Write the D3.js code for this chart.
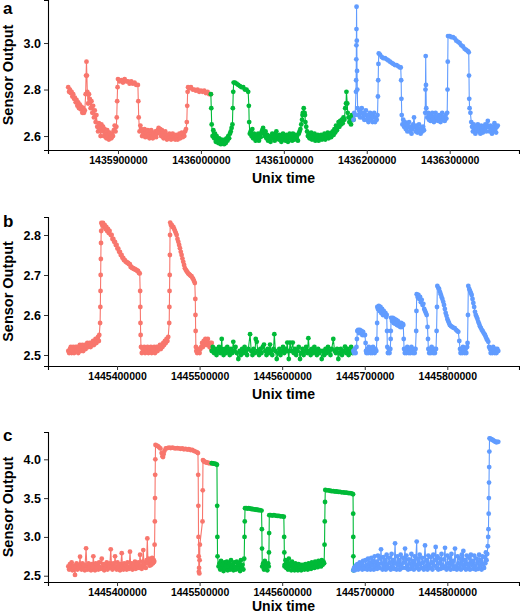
<!DOCTYPE html>
<html><head><meta charset="utf-8">
<script src="https://cdn.jsdelivr.net/npm/d3@7"></script>
<style>html,body{margin:0;padding:0;background:#fff;}svg{display:block;font-family:"Liberation Sans",Arial,sans-serif;}</style>
</head><body><svg id="chart" width="520" height="615"></svg>
<script>
// ---------- Panel a ----------
const aXTicks = [1435900000, 1436000000, 1436100000, 1436200000, 1436300000];
const aYTicks = [2.6, 2.8, 3.0];
const aRed = [[1435840000,2.81],[1435841000,2.79],[1435842000,2.80],[1435843000,2.785],[1435844000,2.79],[1435845000,2.77],[1435846000,2.78],[1435847000,2.76],[1435848000,2.765],[1435849000,2.745],[1435850000,2.755],[1435851000,2.73],[1435852000,2.745],[1435853000,2.72],[1435854000,2.735],[1435855000,2.715],[1435856000,2.725],[1435857000,2.70],[1435858000,2.72],[1435859000,2.70],[1435860000,2.71],[1435861000,2.78],[1435861500,2.86],[1435862000,2.92],[1435862500,2.86],[1435863000,2.79],[1435864000,2.74],[1435865000,2.78],[1435866000,2.76],[1435867000,2.72],[1435868000,2.75],[1435869000,2.70],[1435870000,2.73],[1435871000,2.68],[1435872000,2.71],[1435873000,2.66],[1435874000,2.69],[1435875000,2.64],[1435876000,2.62],[1435877000,2.655],[1435878000,2.635],[1435879000,2.60],[1435880000,2.65],[1435881000,2.62],[1435882000,2.64],[1435883000,2.60],[1435884000,2.63],[1435885000,2.61],[1435886000,2.59],[1435887000,2.625],[1435888000,2.60],[1435889000,2.585],[1435890000,2.615],[1435891000,2.595],[1435892000,2.59],[1435893000,2.61],[1435894000,2.60],[1435895000,2.625],[1435896000,2.645],[1435897000,2.62],[1435898000,2.64],[1435898500,2.68],[1435899000,2.75],[1435899500,2.81],[1435900000,2.845],[1435902000,2.835],[1435904000,2.84],[1435906000,2.83],[1435908000,2.845],[1435910000,2.835],[1435912000,2.835],[1435914000,2.825],[1435916000,2.835],[1435918000,2.825],[1435920000,2.83],[1435922000,2.82],[1435924000,2.82],[1435924500,2.75],[1435925000,2.68],[1435926000,2.62],[1435927000,2.645],[1435928000,2.63],[1435929000,2.60],[1435930000,2.62],[1435931000,2.61],[1435932000,2.63],[1435933000,2.595],[1435934000,2.615],[1435935000,2.60],[1435936000,2.625],[1435937000,2.605],[1435938000,2.59],[1435939000,2.615],[1435940000,2.625],[1435941000,2.60],[1435942000,2.59],[1435943000,2.61],[1435944000,2.60],[1435945000,2.62],[1435946000,2.595],[1435947000,2.61],[1435948000,2.625],[1435949000,2.635],[1435950000,2.615],[1435951000,2.63],[1435952000,2.60],[1435953000,2.625],[1435954000,2.61],[1435955000,2.59],[1435956000,2.605],[1435957000,2.62],[1435958000,2.595],[1435959000,2.585],[1435960000,2.605],[1435961000,2.59],[1435962000,2.61],[1435963000,2.595],[1435964000,2.585],[1435965000,2.60],[1435966000,2.61],[1435967000,2.59],[1435968000,2.60],[1435969000,2.585],[1435970000,2.605],[1435971000,2.595],[1435972000,2.585],[1435973000,2.60],[1435974000,2.61],[1435975000,2.59],[1435976000,2.605],[1435977000,2.615],[1435978000,2.595],[1435979000,2.61],[1435980000,2.60],[1435981000,2.62],[1435982000,2.63],[1435983000,2.66],[1435983500,2.73],[1435984000,2.79],[1435984500,2.81],[1435986000,2.805],[1435988000,2.81],[1435990000,2.80],[1435992000,2.80],[1435994000,2.795],[1435996000,2.80],[1435998000,2.79],[1436000000,2.795],[1436002000,2.79],[1436004000,2.795],[1436006000,2.785],[1436008000,2.79],[1436010000,2.78],[1436012000,2.78]];
const aGreen = [[1436012000,2.78],[1436012500,2.72],[1436013000,2.65],[1436014000,2.60],[1436015000,2.625],[1436016000,2.59],[1436017000,2.61],[1436018000,2.575],[1436019000,2.60],[1436020000,2.585],[1436021000,2.57],[1436022000,2.59],[1436023000,2.575],[1436024000,2.565],[1436025000,2.585],[1436026000,2.57],[1436027000,2.58],[1436028000,2.565],[1436029000,2.585],[1436030000,2.57],[1436031000,2.59],[1436032000,2.58],[1436033000,2.60],[1436034000,2.59],[1436035000,2.61],[1436036000,2.62],[1436037000,2.635],[1436038000,2.65],[1436038500,2.72],[1436039000,2.79],[1436039500,2.83],[1436041000,2.83],[1436043000,2.825],[1436045000,2.82],[1436047000,2.815],[1436049000,2.81],[1436051000,2.81],[1436053000,2.80],[1436055000,2.80],[1436057000,2.79],[1436057800,2.73],[1436058200,2.66],[1436059000,2.61],[1436060000,2.62],[1436061000,2.60],[1436062000,2.63],[1436063000,2.59],[1436064000,2.61],[1436065000,2.60],[1436066000,2.58],[1436067000,2.60],[1436068000,2.59],[1436069000,2.61],[1436070000,2.58],[1436071000,2.60],[1436072000,2.595],[1436073000,2.615],[1436074000,2.625],[1436075000,2.635],[1436076000,2.61],[1436077000,2.60],[1436078000,2.62],[1436079000,2.59],[1436080000,2.605],[1436081000,2.58],[1436082000,2.60],[1436083000,2.59],[1436084000,2.575],[1436085000,2.595],[1436086000,2.61],[1436087000,2.59],[1436088000,2.60],[1436089000,2.58],[1436090000,2.61],[1436091000,2.62],[1436092000,2.59],[1436093000,2.60],[1436094000,2.585],[1436095000,2.605],[1436096000,2.59],[1436097000,2.575],[1436098000,2.595],[1436099000,2.61],[1436100000,2.585],[1436101000,2.60],[1436102000,2.58],[1436103000,2.605],[1436104000,2.59],[1436105000,2.575],[1436106000,2.595],[1436107000,2.61],[1436108000,2.59],[1436109000,2.60],[1436110000,2.58],[1436111000,2.61],[1436112000,2.595],[1436113000,2.585],[1436114000,2.605],[1436115000,2.59],[1436116000,2.60],[1436117000,2.58],[1436118000,2.61],[1436119000,2.62],[1436120000,2.63],[1436121000,2.65],[1436122000,2.67],[1436122500,2.69],[1436123000,2.70],[1436124000,2.72],[1436125000,2.70],[1436125500,2.69],[1436126000,2.66],[1436127000,2.64],[1436128000,2.62],[1436129000,2.60],[1436130000,2.61],[1436131000,2.59],[1436132000,2.60],[1436133000,2.615],[1436134000,2.585],[1436135000,2.60],[1436136000,2.59],[1436137000,2.61],[1436138000,2.58],[1436139000,2.60],[1436140000,2.59],[1436141000,2.605],[1436142000,2.58],[1436143000,2.60],[1436144000,2.59],[1436145000,2.605],[1436146000,2.585],[1436147000,2.60],[1436148000,2.595],[1436149000,2.61],[1436150000,2.585],[1436151000,2.60],[1436152000,2.595],[1436153000,2.615],[1436154000,2.59],[1436155000,2.60],[1436156000,2.61],[1436157000,2.595],[1436158000,2.615],[1436159000,2.62],[1436160000,2.605],[1436161000,2.63],[1436162000,2.615],[1436163000,2.645],[1436164000,2.625],[1436165000,2.64],[1436166000,2.66],[1436167000,2.64],[1436168000,2.665],[1436169000,2.65],[1436170000,2.67],[1436171000,2.655],[1436172000,2.68],[1436173000,2.67],[1436174000,2.72],[1436175000,2.74],[1436175500,2.79],[1436176500,2.74],[1436177000,2.70],[1436178000,2.68],[1436179000,2.66],[1436180000,2.68],[1436181000,2.65],[1436182000,2.69],[1436183000,2.67],[1436184000,2.67]];
const aBlue = [[1436184000,2.67],[1436185000,2.70],[1436186000,2.69],[1436187000,2.79],[1436187200,2.84],[1436187400,2.93],[1436187500,2.99],[1436187600,3.06],[1436187700,3.156],[1436188000,3.01],[1436188300,2.88],[1436188600,2.80],[1436189000,2.72],[1436190000,2.69],[1436191000,2.71],[1436192000,2.68],[1436193000,2.70],[1436194000,2.72],[1436195000,2.68],[1436196000,2.70],[1436197000,2.67],[1436198000,2.69],[1436199000,2.71],[1436200000,2.67],[1436201000,2.69],[1436202000,2.66],[1436203000,2.68],[1436204000,2.70],[1436205000,2.67],[1436206000,2.69],[1436207000,2.66],[1436208000,2.68],[1436209000,2.70],[1436210000,2.66],[1436211000,2.68],[1436212000,2.67],[1436213000,2.69],[1436213500,2.77],[1436213800,2.84],[1436214100,2.91],[1436214500,2.955],[1436216000,2.95],[1436218000,2.94],[1436220000,2.935],[1436222000,2.935],[1436224000,2.93],[1436226000,2.925],[1436228000,2.92],[1436230000,2.915],[1436232000,2.91],[1436234000,2.905],[1436236000,2.905],[1436238000,2.90],[1436240000,2.895],[1436241000,2.895],[1436241500,2.84],[1436241800,2.76],[1436242200,2.69],[1436243000,2.65],[1436244000,2.67],[1436245000,2.64],[1436246000,2.66],[1436247000,2.63],[1436248000,2.65],[1436249000,2.62],[1436250000,2.64],[1436251000,2.66],[1436252000,2.62],[1436253000,2.64],[1436254000,2.61],[1436255000,2.63],[1436256000,2.65],[1436257000,2.68],[1436258000,2.64],[1436259000,2.62],[1436260000,2.645],[1436261000,2.615],[1436262000,2.63],[1436263000,2.65],[1436264000,2.62],[1436265000,2.61],[1436266000,2.635],[1436267000,2.62],[1436268000,2.64],[1436269000,2.625],[1436270500,2.70],[1436270800,2.80],[1436271100,2.944],[1436271400,2.82],[1436271800,2.72],[1436273000,2.68],[1436274000,2.70],[1436275000,2.67],[1436276000,2.69],[1436277000,2.665],[1436278000,2.685],[1436279000,2.70],[1436280000,2.67],[1436281000,2.66],[1436282000,2.685],[1436283000,2.70],[1436284000,2.67],[1436285000,2.68],[1436286000,2.665],[1436287000,2.69],[1436288000,2.675],[1436289000,2.66],[1436290000,2.685],[1436291000,2.70],[1436292000,2.67],[1436293000,2.68],[1436294000,2.665],[1436295000,2.69],[1436296000,2.675],[1436297000,2.70],[1436297400,2.80],[1436297700,2.92],[1436298000,3.03],[1436300000,3.03],[1436302000,3.025],[1436304000,3.025],[1436306000,3.02],[1436308000,3.01],[1436310000,3.005],[1436312000,3.00],[1436314000,2.99],[1436316000,2.985],[1436318000,2.975],[1436320000,2.97],[1436322000,2.965],[1436323000,2.96],[1436323300,2.86],[1436323600,2.76],[1436324000,2.72],[1436325000,2.70],[1436326000,2.66],[1436327000,2.64],[1436328000,2.62],[1436329000,2.65],[1436330000,2.63],[1436331000,2.61],[1436332000,2.64],[1436333000,2.625],[1436334000,2.65],[1436335000,2.62],[1436336000,2.64],[1436337000,2.61],[1436338000,2.645],[1436339000,2.63],[1436340000,2.615],[1436341000,2.64],[1436342000,2.625],[1436343000,2.65],[1436344000,2.62],[1436345000,2.64],[1436346000,2.665],[1436347000,2.64],[1436348000,2.62],[1436349000,2.645],[1436350000,2.63],[1436351000,2.61],[1436352000,2.64],[1436353000,2.625],[1436354000,2.655],[1436355000,2.63],[1436356000,2.615],[1436357000,2.64],[1436358000,2.645]];

// ---------- Panel b ----------
const bXTicks = [1445400000, 1445500000, 1445600000, 1445700000, 1445800000];
const bYTicks = [2.5, 2.6, 2.7, 2.8];
const bRed = [[1445341000,2.51],[1445342000,2.505],[1445343000,2.515],[1445344000,2.52],[1445345000,2.505],[1445346000,2.51],[1445347000,2.52],[1445348000,2.505],[1445349000,2.515],[1445350000,2.52],[1445351000,2.51],[1445352000,2.52],[1445353000,2.505],[1445354000,2.515],[1445355000,2.525],[1445356000,2.51],[1445357000,2.52],[1445358000,2.525],[1445359000,2.51],[1445360000,2.52],[1445361000,2.525],[1445362000,2.515],[1445363000,2.52],[1445364000,2.53],[1445365000,2.52],[1445366000,2.525],[1445367000,2.53],[1445368000,2.52],[1445369000,2.53],[1445370000,2.525],[1445371000,2.535],[1445372000,2.525],[1445373000,2.53],[1445374000,2.54],[1445375000,2.53],[1445376000,2.54],[1445377000,2.545],[1445378000,2.535],[1445378500,2.55],[1445379500,2.58],[1445379800,2.62],[1445380000,2.66],[1445380200,2.70],[1445380400,2.74],[1445380600,2.78],[1445380800,2.81],[1445381000,2.83],[1445382000,2.825],[1445383000,2.83],[1445384000,2.82],[1445385000,2.825],[1445386000,2.815],[1445387000,2.82],[1445388000,2.81],[1445389000,2.815],[1445390000,2.805],[1445391000,2.81],[1445392500,2.80],[1445393500,2.80],[1445394500,2.79],[1445395500,2.79],[1445396500,2.783],[1445397500,2.783],[1445398500,2.775],[1445399500,2.775],[1445400500,2.766],[1445401500,2.766],[1445402500,2.758],[1445403500,2.758],[1445404500,2.75],[1445405500,2.75],[1445406500,2.743],[1445407500,2.743],[1445408500,2.737],[1445409500,2.737],[1445410500,2.733],[1445411500,2.733],[1445412500,2.73],[1445413500,2.73],[1445414500,2.727],[1445415500,2.727],[1445416500,2.72],[1445417500,2.72],[1445418500,2.717],[1445419500,2.717],[1445420500,2.715],[1445421500,2.715],[1445422500,2.713],[1445423500,2.713],[1445424500,2.71],[1445425500,2.71],[1445426500,2.705],[1445427500,2.704],[1445428000,2.66],[1445428200,2.62],[1445428400,2.58],[1445428600,2.55],[1445429000,2.52],[1445430000,2.505],[1445431000,2.515],[1445432000,2.51],[1445433000,2.52],[1445434000,2.505],[1445435000,2.515],[1445436000,2.51],[1445437000,2.52],[1445438000,2.505],[1445439000,2.515],[1445440000,2.51],[1445441000,2.52],[1445442000,2.505],[1445443000,2.515],[1445444000,2.51],[1445445000,2.52],[1445446000,2.505],[1445447000,2.515],[1445448000,2.52],[1445449000,2.51],[1445450000,2.52],[1445451000,2.515],[1445452000,2.525],[1445453000,2.515],[1445454000,2.525],[1445455000,2.52],[1445456000,2.53],[1445457000,2.525],[1445458000,2.535],[1445459000,2.53],[1445460000,2.54],[1445461000,2.535],[1445462000,2.545],[1445463200,2.58],[1445463400,2.62],[1445463600,2.66],[1445463800,2.70],[1445464000,2.75],[1445464200,2.80],[1445464400,2.831],[1445465200,2.825],[1445466200,2.825],[1445467200,2.82],[1445468200,2.82],[1445469200,2.815],[1445470200,2.81],[1445471200,2.805],[1445472200,2.80],[1445473200,2.79],[1445474200,2.783],[1445475200,2.775],[1445476200,2.767],[1445477200,2.758],[1445478200,2.75],[1445479200,2.741],[1445480200,2.733],[1445481200,2.725],[1445482200,2.717],[1445483200,2.713],[1445484200,2.71],[1445485200,2.707],[1445486200,2.704],[1445487200,2.702],[1445488200,2.70],[1445489200,2.698],[1445490200,2.697],[1445491200,2.693],[1445492200,2.69],[1445493200,2.685],[1445494200,2.68],[1445494800,2.64],[1445495000,2.60],[1445495200,2.56],[1445495500,2.52],[1445496000,2.51],[1445497000,2.505],[1445498000,2.515],[1445499000,2.51],[1445500000,2.505],[1445501000,2.515],[1445502000,2.52],[1445503000,2.53],[1445504000,2.52],[1445505000,2.535],[1445506000,2.525],[1445507000,2.54],[1445508000,2.53],[1445509000,2.525],[1445510000,2.54],[1445511000,2.53],[1445512000,2.52],[1445513000,2.53],[1445514000,2.515],[1445514700,2.53]];
const bGreen = [[1445514700,2.51],[1445516000,2.52],[1445517500,2.505],[1445519000,2.515],[1445520500,2.50],[1445522000,2.51],[1445523500,2.52],[1445525000,2.505],[1445526000,2.515],[1445526800,2.54],[1445527600,2.51],[1445529000,2.50],[1445530500,2.515],[1445532000,2.505],[1445533500,2.52],[1445535000,2.51],[1445536500,2.50],[1445538000,2.515],[1445539500,2.505],[1445540800,2.533],[1445542000,2.51],[1445543500,2.52],[1445545000,2.505],[1445546900,2.49],[1445548500,2.51],[1445550000,2.50],[1445551500,2.515],[1445553000,2.505],[1445554500,2.52],[1445556000,2.51],[1445557500,2.50],[1445559000,2.515],[1445561100,2.552],[1445562500,2.51],[1445564000,2.50],[1445565500,2.515],[1445567000,2.505],[1445568000,2.54],[1445569200,2.533],[1445570500,2.51],[1445572000,2.50],[1445573500,2.515],[1445575000,2.505],[1445576500,2.52],[1445578000,2.526],[1445579500,2.51],[1445581000,2.50],[1445582500,2.515],[1445584000,2.505],[1445585300,2.526],[1445586500,2.51],[1445588000,2.50],[1445589500,2.515],[1445590500,2.552],[1445591800,2.51],[1445593400,2.49],[1445595000,2.505],[1445596500,2.515],[1445598000,2.50],[1445599500,2.51],[1445601000,2.52],[1445602500,2.505],[1445604000,2.515],[1445605000,2.51],[1445606200,2.531],[1445607000,2.51],[1445608000,2.49],[1445609500,2.531],[1445611000,2.51],[1445612800,2.531],[1445614000,2.505],[1445615500,2.515],[1445617000,2.50],[1445618500,2.51],[1445620000,2.52],[1445621600,2.49],[1445623000,2.505],[1445624500,2.515],[1445626000,2.50],[1445627500,2.51],[1445629000,2.52],[1445630500,2.505],[1445631700,2.542],[1445633000,2.51],[1445634500,2.50],[1445636000,2.515],[1445637500,2.505],[1445639000,2.52],[1445640500,2.51],[1445642000,2.50],[1445643500,2.515],[1445645000,2.505],[1445646500,2.51],[1445647900,2.49],[1445649500,2.51],[1445651000,2.50],[1445652500,2.515],[1445654000,2.505],[1445655500,2.52],[1445657000,2.51],[1445658500,2.50],[1445660000,2.515],[1445661900,2.54],[1445663500,2.51],[1445665000,2.505],[1445666500,2.515],[1445668000,2.49],[1445669500,2.505],[1445671000,2.515],[1445672500,2.50],[1445674000,2.51],[1445676100,2.521],[1445677500,2.505],[1445679000,2.515],[1445680500,2.50],[1445682000,2.51],[1445683500,2.52],[1445685000,2.505],[1445686200,2.51]];
const bBlue = [[1445686200,2.51],[1445687000,2.505],[1445688000,2.515],[1445689000,2.505],[1445690000,2.52],[1445690500,2.54],[1445691000,2.56],[1445692000,2.5625],[1445693000,2.555],[1445694000,2.5625],[1445695000,2.555],[1445696000,2.56],[1445697000,2.55],[1445698000,2.558],[1445699000,2.55],[1445700300,2.55],[1445701000,2.53],[1445701500,2.51],[1445702000,2.505],[1445703000,2.515],[1445704000,2.505],[1445705000,2.52],[1445706000,2.51],[1445707000,2.505],[1445708000,2.515],[1445709000,2.505],[1445710000,2.52],[1445711000,2.51],[1445712000,2.505],[1445713000,2.515],[1445714000,2.51],[1445714700,2.54],[1445715000,2.58],[1445715200,2.62],[1445716000,2.615],[1445717000,2.623],[1445718000,2.61],[1445719000,2.62],[1445720000,2.605],[1445721000,2.615],[1445722000,2.60],[1445723000,2.61],[1445724000,2.60],[1445725000,2.605],[1445726000,2.595],[1445726600,2.60],[1445727000,2.56],[1445727300,2.52],[1445728000,2.505],[1445729000,2.515],[1445730000,2.505],[1445731000,2.515],[1445731400,2.54],[1445731600,2.56],[1445731800,2.593],[1445733000,2.585],[1445734000,2.593],[1445735000,2.58],[1445736000,2.59],[1445737000,2.578],[1445738000,2.588],[1445739000,2.575],[1445740000,2.585],[1445741000,2.573],[1445742000,2.58],[1445743000,2.57],[1445744000,2.58],[1445745000,2.57],[1445746000,2.578],[1445746700,2.575],[1445747200,2.54],[1445747600,2.515],[1445748500,2.505],[1445749500,2.515],[1445750500,2.505],[1445751500,2.52],[1445752500,2.51],[1445753500,2.505],[1445754500,2.515],[1445755500,2.505],[1445756500,2.52],[1445757500,2.51],[1445758500,2.505],[1445759500,2.515],[1445760500,2.505],[1445761500,2.515],[1445762300,2.56],[1445762600,2.61],[1445762900,2.652],[1445764000,2.645],[1445765000,2.65],[1445766000,2.64],[1445767000,2.645],[1445768000,2.632],[1445769000,2.638],[1445770000,2.625],[1445771000,2.628],[1445772000,2.615],[1445773000,2.61],[1445774000,2.605],[1445775000,2.60],[1445776000,2.57],[1445776600,2.54],[1445777000,2.515],[1445778000,2.505],[1445779000,2.515],[1445780000,2.505],[1445781000,2.52],[1445782000,2.51],[1445783000,2.505],[1445784000,2.515],[1445785000,2.505],[1445786300,2.515],[1445787000,2.56],[1445787500,2.62],[1445787900,2.6725],[1445789000,2.668],[1445790000,2.665],[1445791000,2.658],[1445792000,2.652],[1445793000,2.645],[1445794000,2.64],[1445795000,2.633],[1445796000,2.625],[1445797000,2.615],[1445798000,2.605],[1445799000,2.598],[1445800000,2.59],[1445801000,2.585],[1445802000,2.58],[1445803000,2.575],[1445804500,2.572],[1445806000,2.57],[1445807500,2.568],[1445809000,2.567],[1445810500,2.563],[1445812000,2.56],[1445813300,2.558],[1445814500,2.535],[1445815400,2.515],[1445816000,2.505],[1445817000,2.515],[1445818000,2.505],[1445819000,2.52],[1445820000,2.51],[1445821000,2.505],[1445822000,2.515],[1445823000,2.505],[1445824000,2.52],[1445824500,2.53],[1445825000,2.60],[1445825400,2.6725],[1445826500,2.665],[1445827500,2.66],[1445828500,2.655],[1445829500,2.65],[1445830500,2.64],[1445831500,2.63],[1445832500,2.62],[1445833500,2.608],[1445834500,2.60],[1445835500,2.595],[1445836500,2.59],[1445837500,2.583],[1445838500,2.578],[1445839500,2.572],[1445840500,2.568],[1445841700,2.563],[1445842700,2.56],[1445843700,2.556],[1445844700,2.553],[1445845600,2.55],[1445846600,2.545],[1445847600,2.54],[1445848600,2.537],[1445849600,2.533],[1445850600,2.52],[1445851700,2.515],[1445852500,2.505],[1445853500,2.515],[1445854500,2.505],[1445855500,2.52],[1445856500,2.51],[1445857500,2.505],[1445858500,2.515],[1445859500,2.505],[1445860500,2.515],[1445861700,2.51]];

// ---------- Panel c ----------
const cXTicks = [1445400000, 1445500000, 1445600000, 1445700000, 1445800000];
const cYTicks = [2.5, 3.0, 3.5, 4.0];
const cRed = [[1445341000,2.62],[1445342000,2.58],[1445343000,2.65],[1445344000,2.60],[1445345000,2.67],[1445346000,2.57],[1445347000,2.63],[1445348000,2.60],[1445349100,2.51],[1445350000,2.62],[1445351000,2.66],[1445352000,2.58],[1445353000,2.64],[1445354000,2.60],[1445355200,2.745],[1445356000,2.62],[1445357000,2.58],[1445358000,2.66],[1445359000,2.60],[1445360000,2.64],[1445361000,2.57],[1445362500,2.853],[1445363500,2.62],[1445364500,2.58],[1445365500,2.66],[1445366500,2.60],[1445367500,2.63],[1445368500,2.57],[1445369500,2.65],[1445370300,2.60],[1445371300,2.75],[1445372300,2.61],[1445373300,2.57],[1445374300,2.66],[1445375300,2.60],[1445376300,2.64],[1445377300,2.58],[1445378300,2.67],[1445379300,2.61],[1445380300,2.59],[1445381500,2.72],[1445382500,2.60],[1445383500,2.65],[1445384500,2.57],[1445385500,2.63],[1445386500,2.60],[1445387500,2.67],[1445388500,2.58],[1445389500,2.64],[1445390500,2.60],[1445391400,2.66],[1445392400,2.84],[1445393400,2.62],[1445394400,2.58],[1445395400,2.66],[1445396400,2.60],[1445397600,2.75],[1445398600,2.62],[1445399600,2.58],[1445400600,2.67],[1445401600,2.60],[1445402600,2.64],[1445403600,2.57],[1445404600,2.65],[1445405700,2.79],[1445406700,2.61],[1445407700,2.58],[1445408700,2.66],[1445409700,2.60],[1445410700,2.64],[1445411700,2.58],[1445412700,2.67],[1445413700,2.61],[1445414700,2.59],[1445415700,2.81],[1445416700,2.62],[1445417700,2.66],[1445418700,2.58],[1445419700,2.64],[1445420700,2.60],[1445421700,2.68],[1445422700,2.59],[1445423700,2.65],[1445424700,2.61],[1445425700,2.67],[1445426700,2.60],[1445427900,2.77],[1445428900,2.63],[1445429900,2.59],[1445430900,2.68],[1445431800,2.83],[1445432800,2.62],[1445433800,2.66],[1445434800,2.60],[1445435800,2.70],[1445436700,2.98],[1445437500,2.66],[1445438500,2.72],[1445439500,2.63],[1445440500,2.70],[1445441500,2.64],[1445442500,2.73],[1445443500,2.66],[1445444500,2.70],[1445445000,2.68],[1445445500,2.9],[1445445800,3.2],[1445446000,3.5],[1445446200,3.8],[1445446400,4.0],[1445446600,4.185],[1445448000,4.175],[1445449500,4.17],[1445451000,4.155],[1445452500,4.14],[1445454000,4.08],[1445455000,4.04],[1445455700,4.03],[1445456500,4.07],[1445457500,4.11],[1445459000,4.14],[1445461000,4.145],[1445463000,4.15],[1445465000,4.145],[1445467000,4.15],[1445469000,4.145],[1445471000,4.14],[1445473000,4.145],[1445475000,4.14],[1445477000,4.135],[1445479000,4.14],[1445481000,4.13],[1445483000,4.135],[1445485000,4.125],[1445487000,4.13],[1445489000,4.12],[1445491000,4.12],[1445493000,4.11],[1445495000,4.10],[1445497000,4.09],[1445498000,4.08],[1445498300,3.8],[1445498500,3.4],[1445498700,3.0],[1445498900,2.75],[1445499100,2.55],[1445499400,2.6],[1445499700,2.53],[1445500000,2.7],[1445500300,2.9],[1445503500,3.2],[1445503800,3.6],[1445504100,3.99],[1445505000,3.975],[1445506000,3.97],[1445507000,3.965],[1445508000,3.96],[1445509000,3.958],[1445510000,3.955],[1445511000,3.952],[1445512000,3.95],[1445513500,3.948],[1445514700,3.95]];
const cGreen = [[1445514700,3.95],[1445516000,3.948],[1445517000,3.945],[1445518500,3.942],[1445519500,3.94],[1445521000,3.93],[1445521300,3.4],[1445521500,3.0],[1445521700,2.75],[1445523000,2.62],[1445524000,2.66],[1445525000,2.58],[1445526000,2.69],[1445527000,2.60],[1445528000,2.64],[1445529000,2.56],[1445530000,2.67],[1445531000,2.59],[1445532000,2.63],[1445533000,2.68],[1445534000,2.57],[1445535000,2.62],[1445536000,2.66],[1445537000,2.58],[1445538000,2.70],[1445539000,2.60],[1445540000,2.64],[1445541000,2.57],[1445542000,2.67],[1445543000,2.61],[1445544000,2.58],[1445545000,2.68],[1445546000,2.63],[1445547000,2.59],[1445548000,2.66],[1445549000,2.56],[1445550000,2.70],[1445551000,2.60],[1445552000,2.64],[1445553000,2.58],[1445554000,2.72],[1445554400,3.0],[1445554700,3.2],[1445555000,3.37],[1445556500,3.37],[1445558000,3.365],[1445559500,3.37],[1445561000,3.365],[1445562500,3.36],[1445564000,3.36],[1445565500,3.355],[1445567000,3.355],[1445568500,3.35],[1445570000,3.35],[1445571500,3.345],[1445573000,3.345],[1445575000,3.34],[1445575400,3.1],[1445575600,2.85],[1445575900,2.62],[1445576500,2.62],[1445577000,2.66],[1445578000,2.58],[1445579000,2.69],[1445580000,2.60],[1445581000,2.64],[1445582000,2.57],[1445583000,2.66],[1445583700,2.62],[1445584000,2.8],[1445584200,3.05],[1445584400,3.28],[1445586000,3.28],[1445588000,3.275],[1445590000,3.28],[1445592000,3.275],[1445594000,3.27],[1445596000,3.27],[1445598000,3.265],[1445600000,3.265],[1445602000,3.26],[1445602400,3.0],[1445602600,2.8],[1445602900,2.62],[1445603000,2.64],[1445604000,2.70],[1445605000,2.60],[1445606000,2.67],[1445607000,2.58],[1445608000,2.72],[1445609000,2.62],[1445610000,2.66],[1445611000,2.57],[1445612000,2.68],[1445613000,2.60],[1445614000,2.64],[1445615000,2.57],[1445616000,2.66],[1445617000,2.60],[1445618000,2.63],[1445619000,2.57],[1445620000,2.65],[1445621000,2.59],[1445622000,2.62],[1445623000,2.57],[1445624000,2.64],[1445625000,2.59],[1445626000,2.62],[1445627000,2.58],[1445628000,2.65],[1445629000,2.60],[1445630000,2.63],[1445631000,2.58],[1445632000,2.66],[1445633000,2.60],[1445634000,2.64],[1445635000,2.59],[1445636000,2.67],[1445637000,2.61],[1445638000,2.64],[1445639000,2.60],[1445640000,2.68],[1445641000,2.62],[1445642000,2.65],[1445643000,2.61],[1445644000,2.69],[1445645000,2.63],[1445646000,2.66],[1445647000,2.62],[1445648000,2.70],[1445649000,2.64],[1445650000,2.68],[1445650800,2.66],[1445651300,2.9],[1445651600,3.2],[1445651900,3.45],[1445652200,3.605],[1445654000,3.60],[1445656000,3.60],[1445658000,3.595],[1445660000,3.59],[1445662000,3.59],[1445664000,3.585],[1445666000,3.585],[1445668000,3.58],[1445670000,3.58],[1445672000,3.575],[1445674000,3.575],[1445676000,3.57],[1445678000,3.57],[1445680000,3.565],[1445682000,3.565],[1445684000,3.56],[1445685800,3.55],[1445686000,3.3],[1445686100,3.0],[1445686200,2.75],[1445686300,2.57]];
const cBlue = [[1445686200,2.57],[1445687000,2.60],[1445688000,2.57],[1445689000,2.63],[1445690000,2.59],[1445691000,2.65],[1445692000,2.58],[1445693000,2.62],[1445694000,2.67],[1445695000,2.60],[1445696000,2.64],[1445697000,2.58],[1445698000,2.69],[1445699000,2.62],[1445700000,2.59],[1445701000,2.70],[1445702000,2.64],[1445703000,2.58],[1445704000,2.72],[1445705000,2.61],[1445706000,2.67],[1445707000,2.58],[1445708000,2.73],[1445709000,2.63],[1445710000,2.69],[1445711000,2.58],[1445712000,2.75],[1445713000,2.62],[1445714000,2.68],[1445715000,2.59],[1445716000,2.76],[1445717000,2.65],[1445718000,2.60],[1445719000,2.72],[1445719700,2.84],[1445720500,2.66],[1445721500,2.58],[1445722500,2.74],[1445723500,2.62],[1445724500,2.70],[1445725500,2.58],[1445726500,2.77],[1445727500,2.64],[1445728500,2.60],[1445729500,2.73],[1445730500,2.67],[1445731500,2.58],[1445732500,2.78],[1445733500,2.62],[1445734500,2.70],[1445735500,2.59],[1445736700,2.918],[1445737500,2.66],[1445738500,2.58],[1445739500,2.75],[1445740500,2.63],[1445741500,2.70],[1445742500,2.58],[1445743500,2.77],[1445744500,2.64],[1445745500,2.60],[1445746500,2.73],[1445747500,2.67],[1445748800,2.85],[1445749500,2.60],[1445750500,2.76],[1445751500,2.63],[1445752500,2.58],[1445753500,2.71],[1445754500,2.66],[1445755500,2.59],[1445756500,2.78],[1445757500,2.62],[1445758500,2.69],[1445759500,2.58],[1445760500,2.75],[1445761500,2.64],[1445762900,2.94],[1445763500,2.60],[1445764500,2.72],[1445765500,2.58],[1445766500,2.77],[1445767500,2.65],[1445768500,2.60],[1445769500,2.73],[1445770500,2.67],[1445771500,2.58],[1445773000,2.89],[1445774000,2.62],[1445775000,2.70],[1445776000,2.58],[1445777000,2.76],[1445778000,2.64],[1445779000,2.60],[1445780000,2.74],[1445781000,2.67],[1445782000,2.58],[1445783000,2.77],[1445784000,2.63],[1445785000,2.70],[1445785900,2.87],[1445787000,2.60],[1445788000,2.75],[1445789000,2.58],[1445790000,2.66],[1445791000,2.72],[1445792000,2.59],[1445793000,2.78],[1445794000,2.64],[1445795000,2.60],[1445796000,2.71],[1445797200,2.86],[1445798000,2.62],[1445799000,2.58],[1445800000,2.76],[1445801000,2.66],[1445802000,2.60],[1445803000,2.73],[1445804000,2.58],[1445805000,2.78],[1445806000,2.64],[1445807000,2.69],[1445808000,2.59],[1445809300,2.85],[1445810500,2.62],[1445811500,2.58],[1445812500,2.75],[1445813500,2.66],[1445814500,2.60],[1445815500,2.72],[1445816500,2.58],[1445817500,2.77],[1445818500,2.64],[1445819400,2.82],[1445820500,2.60],[1445821500,2.70],[1445822500,2.58],[1445823500,2.76],[1445824500,2.65],[1445825500,2.60],[1445826500,2.73],[1445827500,2.58],[1445828500,2.77],[1445829500,2.64],[1445830500,2.69],[1445831500,2.59],[1445832500,2.76],[1445833500,2.63],[1445834500,2.58],[1445835500,2.72],[1445836500,2.67],[1445837500,2.59],[1445838500,2.77],[1445839500,2.63],[1445840500,2.70],[1445841500,2.58],[1445842500,2.75],[1445843500,2.65],[1445844500,2.60],[1445845300,2.74],[1445846000,2.66],[1445846700,2.80],[1445847500,2.70],[1445848300,2.78],[1445849000,2.88],[1445849500,3.0],[1445849800,3.1],[1445850100,3.3],[1445850300,3.5],[1445850500,3.7],[1445850700,3.9],[1445850900,4.1],[1445851100,4.271],[1445852000,4.265],[1445853000,4.26],[1445854000,4.255],[1445855000,4.25],[1445856000,4.24],[1445857500,4.23],[1445858500,4.225],[1445859500,4.22],[1445860500,4.225],[1445861700,4.225]];

const panelLabels = ["a", "b", "c"];
const xTitle = "Unix time";
const yTitle = "Sensor Output";
const colors = ["#F8766D", "#00BA38", "#619CFF"];

// ---------- layout ----------
const svg = d3.select("#chart");
const left = 48, right = 519;
const panels = [
  {label: panelLabels[0], series: [aRed, aGreen, aBlue], xTicks: aXTicks, yTicks: aYTicks,
   xDomain: [1435815600, 1436383600], yDomain: [2.54, 3.185], top: 0, bottom: 150, labelY: 14, titleY: 183},
  {label: panelLabels[1], series: [bRed, bGreen, bBlue], xTicks: bXTicks, yTicks: bYTicks,
   xDomain: [1445316400, 1445886800], yDomain: [2.4725, 2.845], top: 217, bottom: 366, labelY: 227, titleY: 399},
  {label: panelLabels[2], series: [cRed, cGreen, cBlue], xTicks: cXTicks, yTicks: cYTicks,
   xDomain: [1445316400, 1445886800], yDomain: [2.419, 4.352], top: 432, bottom: 582, labelY: 441, titleY: 611}
];

panels.forEach(p => {
  const x = d3.scaleLinear().domain(p.xDomain).range([left, right]);
  const y = d3.scaleLinear().domain(p.yDomain).range([p.bottom, p.top]);
  const g = svg.append("g");
  const line = d3.line().x(d => x(d[0])).y(d => y(d[1]));
  p.series.forEach((s, i) => {
    g.append("path").datum(s).attr("d", line)
      .attr("fill", "none").attr("stroke", colors[i]).attr("stroke-width", 1.1);
    g.append("g").selectAll("circle").data(s).join("circle")
      .attr("cx", d => x(d[0])).attr("cy", d => y(d[1])).attr("r", 2.4)
      .attr("fill", colors[i]);
  });
  const xa = g.append("g").attr("transform", `translate(0,${p.bottom})`)
    .call(d3.axisBottom(x).tickValues(p.xTicks).tickFormat(d3.format("d")).tickSizeOuter(0).tickSize(4).tickPadding(3));
  xa.select(".domain").attr("stroke", "#000").attr("stroke-width", 1.1);
  xa.selectAll(".tick line").attr("stroke", "#333").attr("stroke-width", 1);
  xa.selectAll("text").attr("font-size", 10.5).attr("font-weight", "bold").attr("fill", "#000")
    .attr("font-family", "Liberation Sans, Arial, sans-serif");
  const ya = g.append("g").attr("transform", `translate(${left},0)`)
    .call(d3.axisLeft(y).tickValues(p.yTicks).tickFormat(d3.format(".1f")).tickSizeOuter(0).tickSize(4).tickPadding(3));
  ya.select(".domain").attr("stroke", "#000").attr("stroke-width", 1.1);
  ya.selectAll(".tick line").attr("stroke", "#333").attr("stroke-width", 1);
  ya.selectAll("text").attr("font-size", 12.5).attr("font-weight", "bold").attr("fill", "#000")
    .attr("font-family", "Liberation Sans, Arial, sans-serif");
  g.append("text").attr("x", (left + right) / 2).attr("y", p.titleY)
    .attr("text-anchor", "middle").attr("font-size", 14).attr("font-weight", "bold").text(xTitle);
  g.append("text").attr("transform", `translate(13,${(p.top + p.bottom) / 2}) rotate(-90)`)
    .attr("text-anchor", "middle").attr("font-size", 14.5).attr("font-weight", "bold").text(yTitle);
  g.append("text").attr("x", 3).attr("y", p.labelY)
    .attr("font-size", 17).attr("font-weight", "bold").text(p.label);
});
</script></body></html>
